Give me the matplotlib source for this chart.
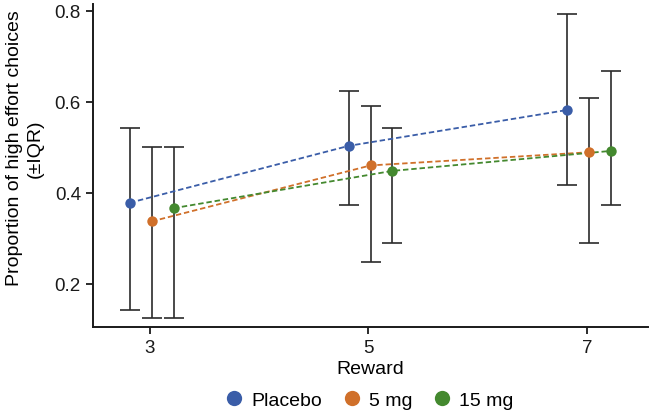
import matplotlib
matplotlib.use("Agg")
import matplotlib.pyplot as plt
from matplotlib.lines import Line2D

plt.rcParams['font.family'] = ['Liberation Sans', 'DejaVu Sans']

reward = [3, 5, 7]
groups = ["Placebo", "5 mg", "15 mg"]
colors = ["#3A5DA8", "#D0702A", "#44892F"]

dodge = {"Placebo": -0.18, "5 mg": 0.02, "15 mg": 0.22}
median = {
    "Placebo": [0.378, 0.503, 0.582],
    "5 mg": [0.337, 0.460, 0.489],
    "15 mg": [0.366, 0.448, 0.492],
}
q_low = {
    "Placebo": [0.143, 0.374, 0.416],
    "5 mg": [0.125, 0.248, 0.290],
    "15 mg": [0.125, 0.290, 0.374],
}
q_high = {
    "Placebo": [0.543, 0.623, 0.792],
    "5 mg": [0.500, 0.590, 0.608],
    "15 mg": [0.500, 0.543, 0.667],
}

fig = plt.figure(figsize=(6.5, 4.14), dpi=100)
ax = fig.add_axes([0.1426, 0.208, 0.855, 0.78])

for g, c in zip(groups, colors):
    xs = [r + dodge[g] for r in reward]
    ys = median[g]
    lo = [y - l for y, l in zip(ys, q_low[g])]
    hi = [h - y for y, h in zip(ys, q_high[g])]
    ax.errorbar(xs, ys, yerr=[lo, hi], fmt='none', ecolor='#2b2b2b',
                elinewidth=1.2, capsize=7.2, capthick=1.2, zorder=2)
    ax.plot(xs, ys, linestyle=(0, (3, 1.6)), color=c, linewidth=1.3, zorder=3)
    ax.plot(xs, ys, 'o', color=c, markersize=7.5, zorder=4, markeredgewidth=0)

ax.set_xlim(2.48, 7.56)
ax.set_ylim(0.105, 0.815)
ax.set_xticks(reward)
ax.set_yticks([0.2, 0.4, 0.6, 0.8])
ax.set_yticklabels(["0.2", "0.4", "0.6", "0.8"])
for s in ['top', 'right']:
    ax.spines[s].set_visible(False)
for s in ['left', 'bottom']:
    ax.spines[s].set_linewidth(1.4)
    ax.spines[s].set_color('#1a1a1a')
ax.tick_params(axis='both', direction='out', length=5, width=1.3, labelsize=13.5, colors='#1a1a1a')
ax.set_xlabel("Reward", fontsize=14, labelpad=3)
ax.set_ylabel("Proportion of high effort choices\n(\u00b1IQR)", fontsize=14, linespacing=1.3)
ax.yaxis.set_label_coords(-0.088, 0.556)

handles = [Line2D([], [], marker='o', linestyle='none', color=c, markersize=11,
                  markeredgewidth=0) for c in colors]
fig.legend(handles, groups, loc='center', bbox_to_anchor=(369 / 650, 1 - 401 / 414),
           ncol=3, frameon=False, fontsize=14, handletextpad=0.4,
           columnspacing=1.0, handlelength=1.0)

fig.savefig("out.png", dpi=100)
